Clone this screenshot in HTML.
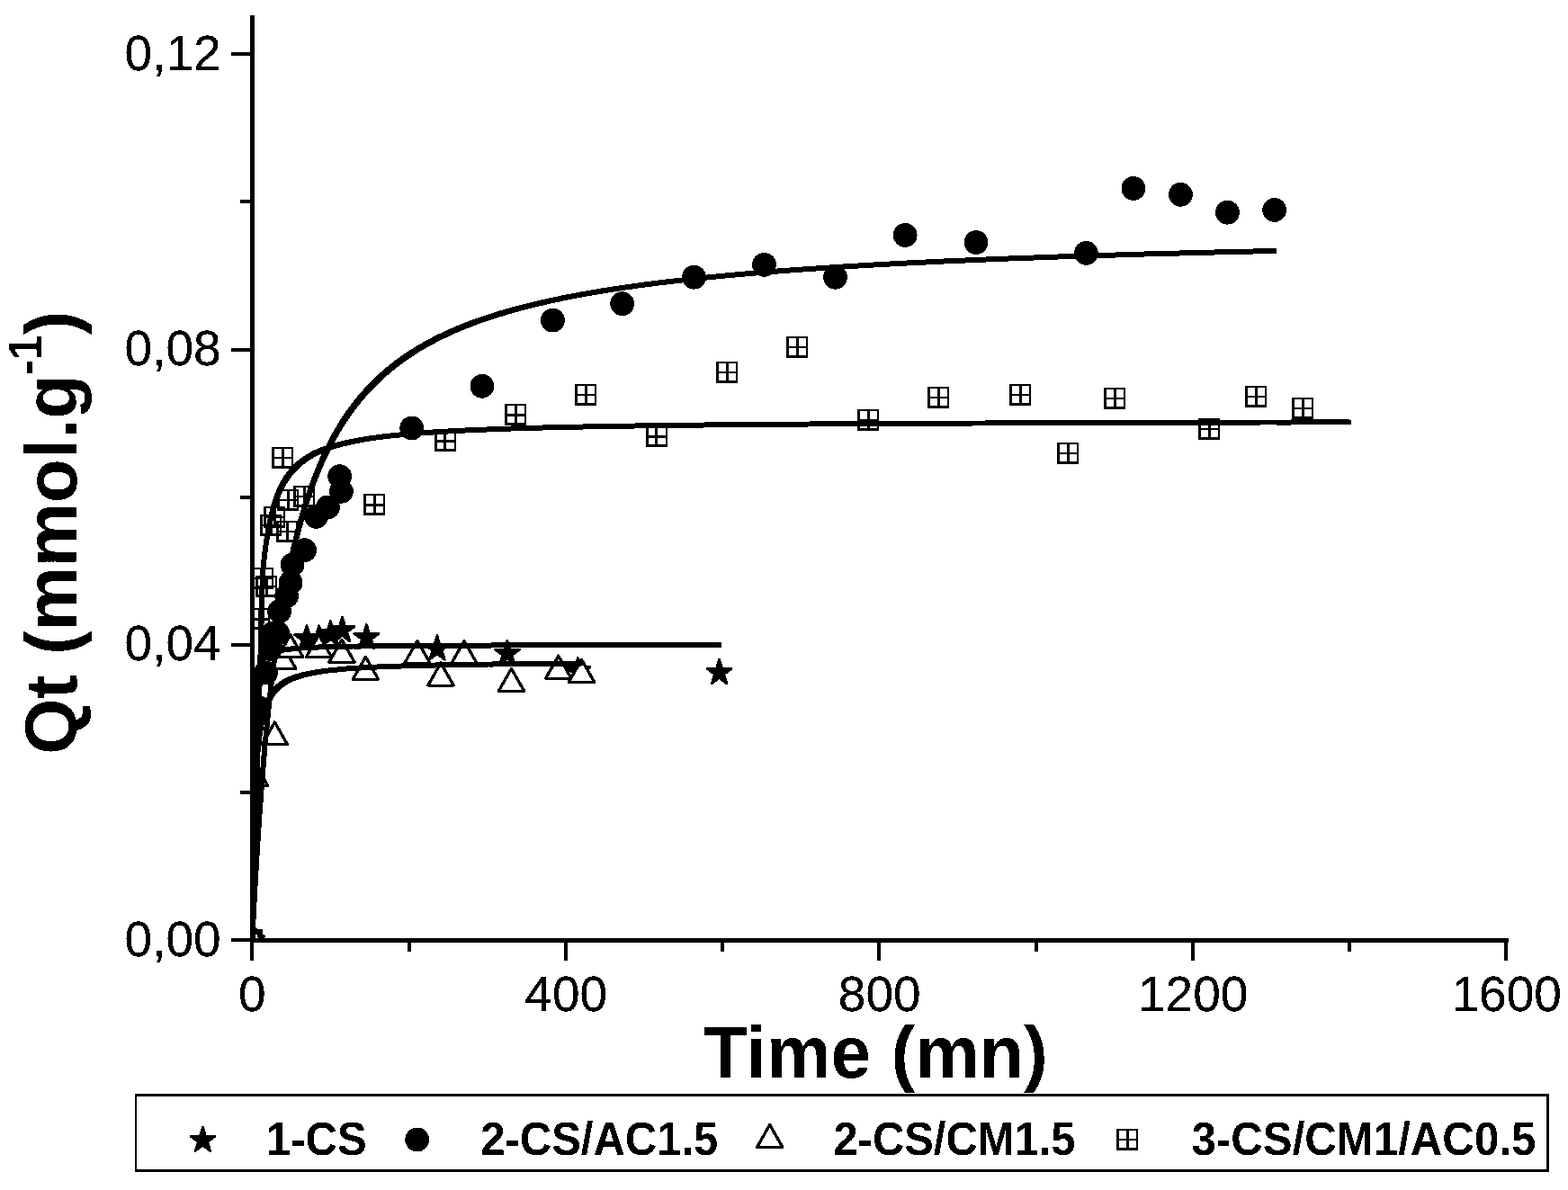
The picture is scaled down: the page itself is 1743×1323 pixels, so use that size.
<!DOCTYPE html>
<html lang="en"><head><meta charset="utf-8"><title>Adsorption kinetics</title>
<style>
html,body{margin:0;padding:0;background:#fff;}
body{width:1743px;height:1323px;overflow:hidden;}
svg{display:block;}
text{font-family:"Liberation Sans",Arial,Helvetica,sans-serif;fill:#000;}
.tk{font-size:55px;}
.ax{font-size:80px;font-weight:bold;}
.lg{font-size:49px;font-weight:bold;}
.ln{fill:none;stroke:#000;stroke-width:6;stroke-linecap:butt;stroke-linejoin:round;}
.axl{fill:none;stroke:#000;stroke-width:4.9;stroke-linecap:butt;}
.tkl{fill:none;stroke:#000;stroke-width:4;stroke-linecap:butt;}
.sq{fill:none;stroke:#000;stroke-width:2.8;}
.te{fill:none;stroke:#000;stroke-width:3.3;stroke-linejoin:round;stroke-linecap:butt;}
.tr{fill:#fff;stroke:#000;stroke-width:3.0;stroke-linejoin:round;}
</style></head><body>
<svg width="1743" height="1323" viewBox="0 0 1743 1323" shape-rendering="crispEdges">
<rect width="1743" height="1323" fill="#fff"/>
<defs><clipPath id="pc"><rect x="280.4" y="0" width="1500" height="1045.4"/></clipPath>
<g id="sqm"><path fill-rule="evenodd" d="M-12,-12h24v24h-24zM-9,-10v19h19v-19z"/><rect x="-1.2" y="-10" width="2.9" height="19"/><rect x="-9" y="-1.1" width="19" height="2.3"/></g>
<filter id="bw" x="-5%" y="-5%" width="110%" height="110%" color-interpolation-filters="sRGB"><feComponentTransfer><feFuncA type="discrete" tableValues="0 1"/></feComponentTransfer></filter>
<filter id="bw2" x="-5%" y="-5%" width="110%" height="110%" color-interpolation-filters="sRGB"><feComponentTransfer><feFuncA type="discrete" tableValues="0 1 1"/></feComponentTransfer></filter>
</defs>
<g clip-path="url(#pc)">
<g id="stars" stroke="#000" stroke-width="2.6" stroke-linejoin="round">
<polygon stroke="none" points="283.7,1030.8 286,1031.9 286.2,1032.9 292,1032.9 292,1038.9 293.9,1038.9 295.1,1040.5 295.1,1041.9 293.9,1042.2 293.9,1043.2 287.2,1043.2 286.2,1041.7 285.3,1038.8 283.7,1038.8"/>
<polygon points="799.5,733.2 802.8,743.4 813.2,743.4 804.8,749.8 808.0,760.0 799.5,753.7 791.1,760.0 794.3,749.8 785.9,743.4 796.3,743.4"/>
<polygon points="642.3,731.4 645.5,741.6 656.0,741.6 647.5,748.0 650.8,758.2 642.3,751.9 633.8,758.2 637.1,748.0 628.6,741.6 639.1,741.6"/>
<polygon points="563.9,711.9 567.1,722.1 577.6,722.1 569.1,728.5 572.4,738.7 563.9,732.4 555.4,738.7 558.7,728.5 550.2,722.1 560.7,722.1"/>
<polygon points="485.9,706.5 489.1,716.7 499.6,716.7 491.1,723.1 494.4,733.3 485.9,727.0 477.4,733.3 480.7,723.1 472.2,716.7 482.7,716.7"/>
<polygon points="407.5,694.3 410.7,704.5 421.2,704.5 412.7,710.9 416.0,721.1 407.5,714.8 399.0,721.1 402.3,710.9 393.8,704.5 404.3,704.5"/>
<polygon points="380.5,686.2 383.7,696.4 394.2,696.4 385.7,702.8 389.0,713.0 380.5,706.7 372.0,713.0 375.3,702.8 366.8,696.4 377.3,696.4"/>
<polygon points="367.3,690.4 370.5,700.6 381.0,700.6 372.5,707.0 375.8,717.2 367.3,710.9 358.8,717.2 362.1,707.0 353.6,700.6 364.1,700.6"/>
<polygon points="354.6,695.5 357.8,705.7 368.3,705.7 359.8,712.1 363.1,722.3 354.6,716.0 346.1,722.3 349.4,712.1 340.9,705.7 351.4,705.7"/>
<polygon points="341.0,695.5 344.2,705.7 354.7,705.7 346.2,712.1 349.5,722.3 341.0,716.0 332.5,722.3 335.8,712.1 327.3,705.7 337.8,705.7"/>
</g>
<g id="circles">
<circle cx="1416.7" cy="233.4" r="13.4"/>
<circle cx="1364.4" cy="236.2" r="13.4"/>
<circle cx="1312.4" cy="216.3" r="13.4"/>
<circle cx="1259.9" cy="209.4" r="13.4"/>
<circle cx="1207.4" cy="281.4" r="13.4"/>
<circle cx="1085.0" cy="269.5" r="13.4"/>
<circle cx="1006.2" cy="261.4" r="13.4"/>
<circle cx="928.5" cy="308.2" r="13.4"/>
<circle cx="849.5" cy="294.3" r="13.4"/>
<circle cx="771.4" cy="308.2" r="13.4"/>
<circle cx="691.7" cy="337.7" r="13.4"/>
<circle cx="614.4" cy="356.1" r="13.4"/>
<circle cx="535.9" cy="429.3" r="13.4"/>
<circle cx="457.7" cy="476.0" r="13.4"/>
<circle cx="377.7" cy="529.7" r="13.4"/>
<circle cx="379.4" cy="546.3" r="13.4"/>
<circle cx="364.4" cy="563.9" r="13.4"/>
<circle cx="351.5" cy="574.4" r="13.4"/>
<circle cx="338.6" cy="611.7" r="13.4"/>
<circle cx="325.1" cy="627.8" r="13.4"/>
<circle cx="323.1" cy="647.7" r="13.4"/>
<circle cx="318.7" cy="662.5" r="13.4"/>
<circle cx="310.6" cy="679.7" r="13.4"/>
<circle cx="308.5" cy="703.6" r="13.4"/>
<circle cx="302.5" cy="704.5" r="13.4"/>
<circle cx="302.0" cy="722.0" r="13.4"/>
<circle cx="295.5" cy="748.0" r="13.4"/>
<circle cx="288.0" cy="787.0" r="13.4"/>
</g>
<g id="tris">
<polygon class="tr" points="283.5,848.5 297.7,873.5 269.3,873.5"/><path class="te" d="M269.3,873.5L283.5,848.5L297.7,873.5"/>
<polygon class="tr" points="305.4,802.9 319.6,827.9 291.2,827.9"/><path class="te" d="M291.2,827.9L305.4,802.9L319.6,827.9"/>
<polygon class="tr" points="314.7,718.5 328.9,743.5 300.5,743.5"/><path class="te" d="M300.5,743.5L314.7,718.5L328.9,743.5"/>
<polygon class="tr" points="322.8,705.7 337.0,730.7 308.6,730.7"/><path class="te" d="M308.6,730.7L322.8,705.7L337.0,730.7"/>
<polygon class="tr" points="354.5,705.7 368.7,730.7 340.3,730.7"/><path class="te" d="M340.3,730.7L354.5,705.7L368.7,730.7"/>
<polygon class="tr" points="380.0,711.3 394.2,736.3 365.8,736.3"/><path class="te" d="M365.8,736.3L380.0,711.3L394.2,736.3"/>
<polygon class="tr" points="406.4,730.3 420.6,755.3 392.2,755.3"/><path class="te" d="M392.2,755.3L406.4,730.3L420.6,755.3"/>
<polygon class="tr" points="463.9,712.4 478.1,737.4 449.7,737.4"/><path class="te" d="M449.7,737.4L463.9,712.4L478.1,737.4"/>
<polygon class="tr" points="490.0,737.0 504.2,762.0 475.8,762.0"/><path class="te" d="M475.8,762.0L490.0,737.0L504.2,762.0"/>
<polygon class="tr" points="516.0,712.6 530.2,737.6 501.8,737.6"/><path class="te" d="M501.8,737.6L516.0,712.6L530.2,737.6"/>
<polygon class="tr" points="568.5,743.4 582.7,768.4 554.2,768.4"/><path class="te" d="M554.2,768.4L568.5,743.4L582.7,768.4"/>
<polygon class="tr" points="620.8,729.1 635.0,754.1 606.6,754.1"/><path class="te" d="M606.6,754.1L620.8,729.1L635.0,754.1"/>
<polygon class="tr" points="646.5,733.3 660.7,758.3 632.3,758.3"/><path class="te" d="M632.3,758.3L646.5,733.3L660.7,758.3"/>
</g>
<g id="squares">
<use href="#sqm" x="1448.0" y="454.1"/>
<use href="#sqm" x="1396.0" y="441.0"/>
<use href="#sqm" x="1344.0" y="477.0"/>
<use href="#sqm" x="1239.0" y="443.0"/>
<use href="#sqm" x="1187.0" y="503.8"/>
<use href="#sqm" x="1134.4" y="438.7"/>
<use href="#sqm" x="1042.8" y="442.0"/>
<use href="#sqm" x="965.1" y="467.0"/>
<use href="#sqm" x="886.1" y="385.9"/>
<use href="#sqm" x="808.1" y="413.9"/>
<use href="#sqm" x="729.5" y="485.4"/>
<use href="#sqm" x="651.0" y="438.9"/>
<use href="#sqm" x="573.0" y="461.4"/>
<use href="#sqm" x="494.5" y="490.4"/>
<use href="#sqm" x="416.0" y="561.4"/>
<use href="#sqm" x="314.0" y="509.0"/>
<use href="#sqm" x="338.0" y="552.0"/>
<use href="#sqm" x="320.2" y="556.0"/>
<use href="#sqm" x="305.1" y="574.8"/>
<use href="#sqm" x="300.9" y="583.9"/>
<use href="#sqm" x="318.9" y="591.1"/>
<use href="#sqm" x="292.0" y="643.0"/>
<use href="#sqm" x="296.1" y="651.9"/>
<use href="#sqm" x="288.0" y="688.4"/>
</g>
<polygon points="277.8,1042.8 277.8,1042.7 277.8,1042.6 277.8,1042.1 277.8,1041.2 277.8,1039.7 277.8,1037.4 277.8,1034.4 277.8,1030.4 277.8,1025.5 277.8,1019.5 277.8,1012.5 277.8,1004.6 277.9,995.7 277.9,986.0 277.9,975.6 277.9,964.6 278.0,953.3 278.0,941.7 278.1,930.0 278.1,918.4 278.2,906.9 278.3,895.6 278.3,884.7 278.4,874.2 278.5,864.2 278.6,854.7 278.7,845.6 278.8,837.1 278.9,829.1 279.1,821.6 279.2,814.7 279.3,808.1 279.5,802.1 279.7,796.4 279.8,791.1 280.0,786.3 280.2,781.7 280.4,777.5 280.6,773.6 280.9,770.0 281.1,766.7 281.4,763.6 281.6,760.7 281.9,758.0 282.2,755.5 282.5,753.1 282.8,751.0 283.1,748.9 283.5,747.1 283.8,745.3 284.2,743.7 284.6,742.1 285.0,740.7 285.4,739.3 285.9,738.1 286.3,736.9 286.8,735.8 287.3,734.8 287.8,733.8 288.3,732.9 288.8,732.0 289.4,731.2 289.9,730.4 290.5,729.7 291.1,729.0 291.8,728.4 292.4,727.8 293.1,727.2 293.8,726.7 294.5,726.2 295.2,725.7 295.9,725.2 296.7,724.8 297.5,724.3 298.3,724.0 299.1,723.6 300.0,723.2 300.9,722.9 301.8,722.6 302.7,722.2 303.7,722.0 304.6,721.7 305.6,721.4 306.6,721.2 307.7,720.9 308.8,720.7 309.8,720.5 311.0,720.2 312.1,720.0 313.3,719.8 314.5,719.7 315.7,719.5 317.0,719.3 318.2,719.1 319.5,719.0 320.9,718.8 322.2,718.7 323.6,718.5 325.0,718.4 326.5,718.3 328.0,718.2 329.5,718.0 331.0,717.9 332.6,717.8 334.2,717.7 335.8,717.6 337.5,717.5 339.2,717.4 340.9,717.3 342.6,717.2 344.4,717.2 346.2,717.1 348.1,717.0 350.0,716.9 351.9,716.8 353.8,716.8 355.8,716.7 357.8,716.6 359.9,716.6 362.0,716.5 364.1,716.4 366.3,716.4 368.5,716.3 370.7,716.3 372.9,716.2 375.3,716.2 377.6,716.1 380.0,716.1 382.4,716.0 384.8,716.0 387.3,715.9 389.9,715.9 392.4,715.8 395.0,715.8 397.7,715.8 400.4,715.7 403.1,715.7 405.8,715.7 408.7,715.6 411.5,715.6 414.4,715.6 417.3,715.5 420.3,715.5 423.3,715.5 426.3,715.4 429.4,715.4 432.6,715.4 435.8,715.3 439.0,715.3 442.3,715.3 445.6,715.3 448.9,715.2 452.3,715.2 455.8,715.2 459.3,715.2 462.8,715.2 466.4,715.1 470.0,715.1 473.7,715.1 477.4,715.1 481.2,715.1 485.0,715.0 488.8,715.0 492.7,715.0 496.7,715.0 500.7,715.0 504.8,714.9 508.9,714.9 513.0,714.9 517.2,714.9 521.5,714.9 525.8,714.9 530.1,714.9 534.5,714.8 539.0,714.8 543.5,714.8 548.0,714.8 552.6,714.8 557.3,714.8 562.0,714.8 566.8,714.7 571.6,714.7 576.5,714.7 581.4,714.7 586.4,714.7 591.4,714.7 596.5,714.7 601.6,714.7 606.8,714.7 612.1,714.7 617.4,714.6 622.7,714.6 628.2,714.6 633.6,714.6 639.2,714.6 644.8,714.6 650.4,714.6 656.1,714.6 661.9,714.6 667.7,714.6 673.6,714.6 679.5,714.5 685.5,714.5 691.6,714.5 697.7,714.5 703.8,714.5 710.1,714.5 716.4,714.5 722.7,714.5 729.1,714.5 735.6,714.5 742.2,714.5 748.8,714.5 755.4,714.5 762.2,714.5 769.0,714.4 775.8,714.4 782.7,714.4 789.7,714.4 796.8,714.4 802.1,714.4 802.1,719.7 795.0,719.7 788.0,719.7 781.1,719.7 774.3,719.7 767.5,719.8 760.7,719.8 754.1,719.8 747.5,719.8 740.9,719.8 734.4,719.8 728.0,719.8 721.7,719.8 715.4,719.8 709.1,719.8 703.0,719.8 696.9,719.8 690.8,719.8 684.8,719.8 678.9,719.9 673.0,719.9 667.2,719.9 661.4,719.9 655.7,719.9 650.1,719.9 644.5,719.9 638.9,719.9 633.5,719.9 628.0,719.9 622.7,719.9 617.4,720.0 612.1,720.0 606.9,720.0 601.8,720.0 596.7,720.0 591.7,720.0 586.7,720.0 581.8,720.0 576.9,720.0 572.1,720.0 567.3,720.1 562.6,720.1 557.9,720.1 553.3,720.1 548.8,720.1 544.3,720.1 539.8,720.1 535.4,720.2 531.1,720.2 526.8,720.2 522.5,720.2 518.3,720.2 514.2,720.2 510.1,720.2 506.0,720.3 502.0,720.3 498.0,720.3 494.1,720.3 490.3,720.3 486.5,720.4 482.7,720.4 479.0,720.4 475.3,720.4 471.7,720.4 468.1,720.5 464.6,720.5 461.1,720.5 457.6,720.5 454.2,720.5 450.9,720.6 447.6,720.6 444.3,720.6 441.1,720.6 437.9,720.7 434.7,720.7 431.6,720.7 428.6,720.8 425.6,720.8 422.6,720.8 419.7,720.9 416.8,720.9 414.0,720.9 411.1,721.0 408.4,721.0 405.7,721.0 403.0,721.1 400.3,721.1 397.7,721.1 395.2,721.2 392.6,721.2 390.1,721.3 387.7,721.3 385.3,721.4 382.9,721.4 380.6,721.5 378.2,721.5 376.0,721.6 373.8,721.6 371.6,721.7 369.4,721.7 367.3,721.8 365.2,721.9 363.1,721.9 361.1,722.0 359.1,722.1 357.2,722.1 355.3,722.2 353.4,722.3 351.5,722.4 349.7,722.5 347.9,722.5 346.2,722.6 344.5,722.7 342.8,722.8 341.1,722.9 339.5,723.0 337.9,723.1 336.3,723.2 334.8,723.3 333.3,723.5 331.8,723.6 330.3,723.7 328.9,723.8 327.5,724.0 326.2,724.1 324.8,724.3 323.5,724.4 322.3,724.6 321.0,724.8 319.8,725.0 318.6,725.1 317.4,725.3 316.3,725.5 315.1,725.8 314.1,726.0 313.0,726.2 311.9,726.5 310.9,726.7 309.9,727.0 309.0,727.3 308.0,727.5 307.1,727.9 306.2,728.2 305.3,728.5 304.4,728.9 303.6,729.3 302.8,729.6 302.0,730.1 301.2,730.5 300.5,731.0 299.8,731.5 299.1,732.0 298.4,732.5 297.7,733.1 297.1,733.7 296.4,734.3 295.8,735.0 295.2,735.7 294.7,736.5 294.1,737.3 293.6,738.2 293.1,739.1 292.6,740.1 292.1,741.1 291.6,742.2 291.2,743.4 290.7,744.6 290.3,746.0 289.9,747.4 289.5,749.0 289.1,750.6 288.8,752.4 288.4,754.2 288.1,756.3 287.8,758.4 287.5,760.8 287.2,763.3 286.9,766.0 286.7,768.9 286.4,772.0 286.2,775.3 285.9,778.9 285.7,782.8 285.5,787.0 285.3,791.6 285.1,796.4 285.0,801.7 284.8,807.4 284.6,813.4 284.5,820.0 284.4,826.9 284.2,834.4 284.1,842.4 284.0,850.9 283.9,860.0 283.8,869.5 283.7,879.5 283.6,890.0 283.6,900.9 283.5,912.2 283.4,923.7 283.4,935.3 283.3,947.0 283.3,958.6 283.2,969.9 283.2,980.9 283.2,991.3 283.2,1001.0 283.1,1009.9 283.1,1017.8 283.1,1024.8 283.1,1030.8 283.1,1035.7 283.1,1039.7 283.1,1042.7 283.1,1045.0 283.1,1046.5 283.1,1047.4 283.1,1047.9 283.1,1048.0 283.0,1048.1 277.8,1048.1"/>
<path class="ln" d="M280.4,1045.4 L280.4,1045.4 L280.4,1045.2 L280.4,1044.7 L280.4,1043.8 L280.4,1042.3 L280.4,1040.1 L280.4,1037.0 L280.4,1033.1 L280.4,1028.1 L280.4,1022.2 L280.5,1015.2 L280.5,1007.2 L280.5,998.3 L280.5,988.6 L280.6,978.2 L280.6,967.3 L280.6,956.0 L280.7,944.4 L280.7,932.7 L280.8,921.0 L280.9,909.5 L280.9,898.3 L281.0,887.4 L281.1,876.9 L281.2,866.9 L281.3,857.3 L281.4,848.3 L281.5,839.8 L281.6,831.8 L281.7,824.3 L281.9,817.3 L282.0,810.8 L282.2,804.7 L282.3,799.1 L282.5,793.8 L282.7,788.9 L282.9,784.4 L283.1,780.2 L283.3,776.3 L283.5,772.7 L283.8,769.3 L284.0,766.2 L284.3,763.3 L284.6,760.6 L284.8,758.1 L285.1,755.8 L285.5,753.6 L285.8,751.6 L286.1,749.7 L286.5,747.9 L286.9,746.3 L287.3,744.8 L287.7,743.3 L288.1,742.0 L288.5,740.7 L289.0,739.6 L289.4,738.5 L289.9,737.4 L290.4,736.4 L290.9,735.5 L291.5,734.7 L292.0,733.9 L292.6,733.1 L293.2,732.4 L293.8,731.7 L294.4,731.0 L295.1,730.4 L295.7,729.9 L296.4,729.3 L297.1,728.8 L297.8,728.3 L298.6,727.9 L299.4,727.4 L300.2,727.0 L301.0,726.6 L301.8,726.2 L302.7,725.9 L303.5,725.5 L304.4,725.2 L305.4,724.9 L306.3,724.6 L307.3,724.3 L308.3,724.1 L309.3,723.8 L310.3,723.6 L311.4,723.3 L312.5,723.1 L313.6,722.9 L314.8,722.7 L315.9,722.5 L317.1,722.3 L318.4,722.1 L319.6,722.0 L320.9,721.8 L322.2,721.6 L323.5,721.5 L324.9,721.3 L326.3,721.2 L327.7,721.1 L329.1,720.9 L330.6,720.8 L332.1,720.7 L333.7,720.6 L335.2,720.5 L336.8,720.4 L338.5,720.3 L340.1,720.2 L341.8,720.1 L343.5,720.0 L345.3,719.9 L347.1,719.8 L348.9,719.7 L350.7,719.6 L352.6,719.6 L354.5,719.5 L356.5,719.4 L358.5,719.3 L360.5,719.3 L362.5,719.2 L364.6,719.2 L366.7,719.1 L368.9,719.0 L371.1,719.0 L373.3,718.9 L375.6,718.9 L377.9,718.8 L380.2,718.8 L382.6,718.7 L385.0,718.7 L387.5,718.6 L390.0,718.6 L392.5,718.5 L395.1,718.5 L397.7,718.5 L400.3,718.4 L403.0,718.4 L405.7,718.3 L408.5,718.3 L411.3,718.3 L414.1,718.2 L417.0,718.2 L420.0,718.2 L422.9,718.1 L425.9,718.1 L429.0,718.1 L432.1,718.1 L435.2,718.0 L438.4,718.0 L441.6,718.0 L444.9,717.9 L448.2,717.9 L451.6,717.9 L455.0,717.9 L458.4,717.9 L461.9,717.8 L465.4,717.8 L469.0,717.8 L472.7,717.8 L476.3,717.7 L480.0,717.7 L483.8,717.7 L487.6,717.7 L491.5,717.7 L495.4,717.6 L499.4,717.6 L503.4,717.6 L507.4,717.6 L511.5,717.6 L515.7,717.6 L519.9,717.5 L524.1,717.5 L528.4,717.5 L532.8,717.5 L537.2,717.5 L541.6,717.5 L546.1,717.5 L550.7,717.4 L555.3,717.4 L560.0,717.4 L564.7,717.4 L569.4,717.4 L574.2,717.4 L579.1,717.4 L584.0,717.4 L589.0,717.4 L594.0,717.3 L599.1,717.3 L604.3,717.3 L609.5,717.3 L614.7,717.3 L620.0,717.3 L625.4,717.3 L630.8,717.3 L636.3,717.3 L641.8,717.3 L647.4,717.2 L653.0,717.2 L658.8,717.2 L664.5,717.2 L670.3,717.2 L676.2,717.2 L682.2,717.2 L688.1,717.2 L694.2,717.2 L700.3,717.2 L706.5,717.2 L712.7,717.2 L719.0,717.2 L725.4,717.1 L731.8,717.1 L738.3,717.1 L744.8,717.1 L751.4,717.1 L758.1,717.1 L764.8,717.1 L771.6,717.1 L778.5,717.1 L785.4,717.1 L792.4,717.1 L799.4,717.1"/>
<polygon points="277.8,1042.8 277.8,1042.7 277.8,1042.7 277.8,1042.7 277.8,1042.6 277.8,1042.5 277.8,1042.3 277.8,1042.0 277.8,1041.6 277.8,1041.1 277.9,1040.5 277.9,1039.8 277.9,1038.9 278.0,1037.9 278.0,1036.6 278.1,1035.3 278.2,1033.7 278.3,1031.9 278.4,1029.9 278.5,1027.7 278.6,1025.2 278.7,1022.5 278.9,1019.6 279.0,1016.4 279.2,1012.9 279.4,1009.2 279.6,1005.2 279.8,1001.0 280.1,996.4 280.4,991.6 280.6,986.5 280.9,981.2 281.2,975.5 281.6,969.6 281.9,963.5 282.3,957.1 282.7,950.4 283.2,943.5 283.6,936.3 284.1,928.9 284.6,921.3 285.1,913.5 285.7,905.5 286.2,897.3 286.8,888.9 287.5,880.4 288.1,871.7 288.8,862.9 289.5,854.0 290.3,845.0 291.1,835.8 291.9,826.6 292.7,817.3 293.6,808.0 294.5,798.7 295.5,789.3 296.5,779.9 297.5,770.4 298.6,761.1 299.7,751.7 300.8,742.3 302.0,733.0 303.2,723.8 304.4,714.6 305.7,705.5 307.0,696.5 308.4,687.5 309.8,678.7 311.3,669.9 312.8,661.2 314.3,652.7 315.9,644.3 317.6,636.0 319.2,627.8 321.0,619.7 322.7,611.8 324.6,604.0 326.4,596.4 328.4,588.9 330.3,581.5 332.4,574.2 334.4,567.1 336.6,560.2 338.7,553.3 341.0,546.7 343.2,540.1 345.6,533.7 348.0,527.4 350.4,521.3 352.9,515.3 355.5,509.4 358.1,503.7 360.8,498.1 363.5,492.6 366.3,487.2 369.2,482.0 372.1,476.9 375.1,471.9 378.1,467.0 381.2,462.3 384.4,457.6 387.6,453.1 390.9,448.7 394.3,444.4 397.7,440.2 401.2,436.1 404.8,432.1 408.4,428.2 412.1,424.4 415.9,420.6 419.7,417.0 423.6,413.5 427.6,410.0 431.6,406.7 435.8,403.4 439.9,400.2 444.2,397.1 448.6,394.0 453.0,391.0 457.5,388.2 462.0,385.3 466.7,382.6 471.4,379.9 476.2,377.3 481.1,374.7 486.0,372.2 491.1,369.8 496.2,367.4 501.4,365.1 506.7,362.8 512.1,360.6 517.5,358.5 523.0,356.3 528.7,354.3 534.4,352.3 540.1,350.3 546.0,348.4 552.0,346.6 558.0,344.7 564.2,343.0 570.4,341.2 576.7,339.5 583.1,337.9 589.6,336.3 596.2,334.7 602.9,333.1 609.7,331.6 616.5,330.2 623.5,328.7 630.5,327.3 637.7,325.9 644.9,324.6 652.3,323.3 659.7,322.0 667.3,320.7 674.9,319.5 682.6,318.3 690.5,317.1 698.4,316.0 706.4,314.9 714.6,313.8 722.8,312.7 731.2,311.7 739.6,310.6 748.2,309.6 756.8,308.6 765.6,307.7 774.5,306.7 783.4,305.8 792.5,304.9 801.7,304.0 811.0,303.2 820.4,302.3 829.9,301.5 839.6,300.7 849.3,299.9 859.2,299.1 869.1,298.3 879.2,297.6 889.4,296.8 899.7,296.1 910.1,295.4 920.7,294.7 931.3,294.1 942.1,293.4 953.0,292.8 964.0,292.1 975.1,291.5 986.4,290.9 997.8,290.3 1009.2,289.7 1020.9,289.1 1032.6,288.5 1044.4,288.0 1056.4,287.4 1068.5,286.9 1080.8,286.4 1093.1,285.9 1105.6,285.4 1118.2,284.9 1130.9,284.4 1143.8,283.9 1156.8,283.4 1169.9,283.0 1183.2,282.5 1196.5,282.1 1210.0,281.7 1223.7,281.2 1237.5,280.8 1251.4,280.4 1265.4,280.0 1279.6,279.6 1293.9,279.2 1308.4,278.8 1322.9,278.5 1337.7,278.1 1352.5,277.7 1367.5,277.4 1382.6,277.0 1397.9,276.7 1413.3,276.3 1418.6,276.3 1418.6,281.6 1403.2,282.0 1387.9,282.3 1372.8,282.7 1357.8,283.0 1343.0,283.4 1328.2,283.8 1313.7,284.1 1299.2,284.5 1284.9,284.9 1270.7,285.3 1256.7,285.7 1242.8,286.1 1229.0,286.5 1215.3,287.0 1201.8,287.4 1188.5,287.8 1175.2,288.3 1162.1,288.7 1149.1,289.2 1136.2,289.7 1123.5,290.2 1110.9,290.7 1098.4,291.2 1086.1,291.7 1073.8,292.2 1061.7,292.7 1049.7,293.3 1037.9,293.8 1026.2,294.4 1014.5,295.0 1003.1,295.6 991.7,296.2 980.4,296.8 969.3,297.4 958.3,298.1 947.4,298.7 936.6,299.4 926.0,300.0 915.4,300.7 905.0,301.4 894.7,302.1 884.5,302.9 874.4,303.6 864.5,304.4 854.6,305.2 844.9,306.0 835.2,306.8 825.7,307.6 816.3,308.5 807.0,309.3 797.8,310.2 788.7,311.1 779.8,312.0 770.9,313.0 762.1,313.9 753.5,314.9 744.9,315.9 736.5,317.0 728.1,318.0 719.9,319.1 711.7,320.2 703.7,321.3 695.8,322.4 687.9,323.6 680.2,324.8 672.6,326.0 665.0,327.3 657.6,328.6 650.2,329.9 643.0,331.2 635.8,332.6 628.8,334.0 621.8,335.5 615.0,336.9 608.2,338.4 601.5,340.0 594.9,341.6 588.4,343.2 582.0,344.8 575.7,346.5 569.5,348.3 563.3,350.0 557.3,351.9 551.3,353.7 545.4,355.6 539.7,357.6 534.0,359.6 528.3,361.6 522.8,363.8 517.4,365.9 512.0,368.1 506.7,370.4 501.5,372.7 496.4,375.1 491.3,377.5 486.4,380.0 481.5,382.6 476.7,385.2 472.0,387.9 467.3,390.6 462.8,393.5 458.3,396.3 453.9,399.3 449.5,402.4 445.2,405.5 441.1,408.7 436.9,412.0 432.9,415.3 428.9,418.8 425.0,422.3 421.2,425.9 417.4,429.7 413.7,433.5 410.1,437.4 406.5,441.4 403.0,445.5 399.6,449.7 396.2,454.0 392.9,458.4 389.7,462.9 386.5,467.6 383.4,472.3 380.4,477.2 377.4,482.2 374.5,487.3 371.6,492.5 368.8,497.9 366.1,503.4 363.4,509.0 360.8,514.7 358.2,520.6 355.7,526.6 353.3,532.7 350.9,539.0 348.5,545.4 346.3,552.0 344.0,558.6 341.9,565.5 339.7,572.4 337.7,579.5 335.6,586.8 333.7,594.2 331.7,601.7 329.9,609.3 328.0,617.1 326.3,625.0 324.5,633.1 322.9,641.3 321.2,649.6 319.6,658.0 318.1,666.5 316.6,675.2 315.1,684.0 313.7,692.8 312.3,701.8 311.0,710.8 309.7,719.9 308.5,729.1 307.3,738.3 306.1,747.6 305.0,757.0 303.9,766.4 302.8,775.7 301.8,785.2 300.8,794.6 299.8,804.0 298.9,813.3 298.0,822.6 297.2,831.9 296.4,841.1 295.6,850.3 294.8,859.3 294.1,868.2 293.4,877.0 292.8,885.7 292.1,894.2 291.5,902.6 291.0,910.8 290.4,918.8 289.9,926.6 289.4,934.2 288.9,941.6 288.5,948.8 288.0,955.7 287.6,962.4 287.2,968.8 286.9,974.9 286.5,980.8 286.2,986.5 285.9,991.8 285.7,996.9 285.4,1001.7 285.1,1006.3 284.9,1010.5 284.7,1014.5 284.5,1018.2 284.3,1021.7 284.2,1024.9 284.0,1027.8 283.9,1030.5 283.8,1033.0 283.7,1035.2 283.6,1037.2 283.5,1039.0 283.4,1040.6 283.3,1041.9 283.3,1043.2 283.2,1044.2 283.2,1045.1 283.2,1045.8 283.1,1046.4 283.1,1046.9 283.1,1047.3 283.1,1047.6 283.1,1047.8 283.1,1047.9 283.1,1048.0 283.1,1048.0 283.1,1048.0 283.0,1048.1 277.8,1048.1"/>
<path class="ln" d="M280.4,1045.4 L280.4,1045.4 L280.4,1045.4 L280.4,1045.3 L280.4,1045.3 L280.4,1045.1 L280.4,1044.9 L280.4,1044.6 L280.5,1044.3 L280.5,1043.8 L280.5,1043.2 L280.5,1042.4 L280.6,1041.5 L280.6,1040.5 L280.7,1039.3 L280.8,1037.9 L280.8,1036.3 L280.9,1034.5 L281.0,1032.5 L281.1,1030.3 L281.3,1027.9 L281.4,1025.2 L281.5,1022.2 L281.7,1019.0 L281.9,1015.6 L282.1,1011.9 L282.3,1007.9 L282.5,1003.6 L282.7,999.1 L283.0,994.3 L283.3,989.2 L283.6,983.8 L283.9,978.2 L284.2,972.3 L284.6,966.1 L285.0,959.7 L285.4,953.0 L285.8,946.1 L286.3,939.0 L286.7,931.6 L287.2,924.0 L287.8,916.2 L288.3,908.1 L288.9,900.0 L289.5,891.6 L290.1,883.1 L290.8,874.4 L291.5,865.6 L292.2,856.6 L292.9,847.6 L293.7,838.5 L294.5,829.3 L295.4,820.0 L296.3,810.7 L297.2,801.3 L298.1,791.9 L299.1,782.5 L300.2,773.1 L301.2,763.7 L302.3,754.3 L303.4,745.0 L304.6,735.7 L305.8,726.4 L307.1,717.3 L308.4,708.1 L309.7,699.1 L311.1,690.2 L312.5,681.3 L313.9,672.5 L315.4,663.9 L317.0,655.4 L318.6,646.9 L320.2,638.6 L321.9,630.4 L323.6,622.4 L325.4,614.5 L327.2,606.7 L329.1,599.0 L331.0,591.5 L333.0,584.1 L335.0,576.9 L337.1,569.8 L339.2,562.8 L341.4,556.0 L343.6,549.3 L345.9,542.8 L348.2,536.3 L350.6,530.1 L353.1,523.9 L355.6,517.9 L358.1,512.1 L360.8,506.3 L363.4,500.7 L366.2,495.2 L369.0,489.9 L371.8,484.6 L374.8,479.5 L377.7,474.6 L380.8,469.7 L383.9,464.9 L387.0,460.3 L390.3,455.8 L393.6,451.3 L396.9,447.0 L400.4,442.8 L403.9,438.7 L407.4,434.7 L411.0,430.8 L414.7,427.0 L418.5,423.3 L422.3,419.7 L426.3,416.1 L430.2,412.7 L434.3,409.3 L438.4,406.0 L442.6,402.8 L446.9,399.7 L451.2,396.7 L455.6,393.7 L460.1,390.8 L464.7,388.0 L469.3,385.2 L474.1,382.5 L478.9,379.9 L483.7,377.4 L488.7,374.9 L493.7,372.4 L498.9,370.0 L504.1,367.7 L509.3,365.5 L514.7,363.3 L520.2,361.1 L525.7,359.0 L531.3,356.9 L537.0,354.9 L542.8,353.0 L548.7,351.1 L554.6,349.2 L560.7,347.4 L566.8,345.6 L573.0,343.9 L579.4,342.2 L585.8,340.5 L592.3,338.9 L598.8,337.3 L605.5,335.8 L612.3,334.3 L619.2,332.8 L626.1,331.4 L633.2,330.0 L640.3,328.6 L647.6,327.2 L654.9,325.9 L662.4,324.7 L669.9,323.4 L677.5,322.2 L685.3,321.0 L693.1,319.8 L701.1,318.7 L709.1,317.5 L717.2,316.4 L725.5,315.4 L733.8,314.3 L742.3,313.3 L750.8,312.3 L759.5,311.3 L768.2,310.3 L777.1,309.4 L786.1,308.5 L795.2,307.6 L804.4,306.7 L813.7,305.8 L823.1,305.0 L832.6,304.1 L842.2,303.3 L852.0,302.5 L861.8,301.7 L871.8,301.0 L881.9,300.2 L892.1,299.5 L902.4,298.8 L912.8,298.1 L923.3,297.4 L934.0,296.7 L944.8,296.0 L955.7,295.4 L966.7,294.8 L977.8,294.1 L989.0,293.5 L1000.4,292.9 L1011.9,292.3 L1023.5,291.8 L1035.2,291.2 L1047.1,290.6 L1059.1,290.1 L1071.2,289.6 L1083.4,289.0 L1095.8,288.5 L1108.2,288.0 L1120.8,287.5 L1133.6,287.0 L1146.4,286.6 L1159.4,286.1 L1172.6,285.6 L1185.8,285.2 L1199.2,284.7 L1212.7,284.3 L1226.3,283.9 L1240.1,283.5 L1254.0,283.1 L1268.1,282.6 L1282.2,282.3 L1296.6,281.9 L1311.0,281.5 L1325.6,281.1 L1340.3,280.7 L1355.2,280.4 L1370.2,280.0 L1385.3,279.7 L1400.6,279.3 L1416.0,279.0"/>
<polygon points="277.8,1042.8 277.8,1042.7 277.8,1042.7 277.8,1042.7 277.8,1042.5 277.8,1042.3 277.8,1042.0 277.8,1041.5 277.8,1040.9 277.8,1040.1 277.8,1039.2 277.8,1038.0 277.8,1036.6 277.8,1035.0 277.8,1033.1 277.9,1031.0 277.9,1028.6 277.9,1025.9 278.0,1023.0 278.0,1019.8 278.0,1016.3 278.1,1012.5 278.1,1008.5 278.2,1004.2 278.2,999.7 278.3,994.9 278.4,989.9 278.4,984.8 278.5,979.5 278.6,974.0 278.7,968.4 278.8,962.7 278.9,956.9 279.0,951.1 279.1,945.2 279.2,939.3 279.4,933.4 279.5,927.5 279.6,921.6 279.8,915.8 280.0,910.1 280.1,904.4 280.3,898.9 280.5,893.4 280.7,888.1 280.9,882.8 281.1,877.7 281.3,872.8 281.6,867.9 281.8,863.2 282.1,858.7 282.3,854.2 282.6,850.0 282.9,845.8 283.2,841.8 283.5,837.9 283.8,834.2 284.1,830.6 284.5,827.1 284.8,823.8 285.2,820.6 285.6,817.5 286.0,814.5 286.4,811.6 286.8,808.9 287.2,806.2 287.6,803.7 288.1,801.2 288.6,798.9 289.1,796.6 289.6,794.5 290.1,792.4 290.6,790.4 291.1,788.4 291.7,786.6 292.3,784.8 292.9,783.1 293.5,781.5 294.1,779.9 294.7,778.4 295.4,776.9 296.0,775.5 296.7,774.2 297.4,772.9 298.1,771.6 298.9,770.4 299.6,769.3 300.4,768.2 301.2,767.1 302.0,766.1 302.8,765.1 303.7,764.1 304.5,763.2 305.4,762.3 306.3,761.4 307.2,760.6 308.2,759.8 309.2,759.1 310.1,758.3 311.1,757.6 312.2,756.9 313.2,756.2 314.3,755.6 315.3,755.0 316.5,754.4 317.6,753.8 318.7,753.2 319.9,752.7 321.1,752.2 322.3,751.7 323.5,751.2 324.8,750.7 326.1,750.3 327.4,749.8 328.7,749.4 330.1,749.0 331.5,748.6 332.9,748.2 334.3,747.8 335.7,747.4 337.2,747.1 338.7,746.7 340.2,746.4 341.8,746.1 343.4,745.8 345.0,745.5 346.6,745.2 348.2,744.9 349.9,744.6 351.6,744.3 353.3,744.1 355.1,743.8 356.9,743.6 358.7,743.3 360.5,743.1 362.4,742.9 364.3,742.6 366.2,742.4 368.2,742.2 370.2,742.0 372.2,741.8 374.2,741.6 376.3,741.4 378.4,741.3 380.5,741.1 382.6,740.9 384.8,740.7 387.0,740.6 389.3,740.4 391.6,740.3 393.9,740.1 396.2,740.0 398.6,739.8 401.0,739.7 403.4,739.5 405.9,739.4 408.4,739.3 410.9,739.1 413.5,739.0 416.1,738.9 418.7,738.8 421.3,738.7 424.0,738.5 426.8,738.4 429.5,738.3 432.3,738.2 435.1,738.1 438.0,738.0 440.9,737.9 443.8,737.8 446.8,737.7 449.8,737.6 452.8,737.6 455.9,737.5 459.0,737.4 462.1,737.3 465.3,737.2 468.5,737.1 471.8,737.1 475.1,737.0 478.4,736.9 481.8,736.8 485.2,736.8 488.6,736.7 492.1,736.6 495.6,736.6 499.2,736.5 502.7,736.4 506.4,736.4 510.0,736.3 513.7,736.2 517.5,736.2 521.3,736.1 525.1,736.1 529.0,736.0 532.9,736.0 536.8,735.9 540.8,735.9 544.8,735.8 548.9,735.8 553.0,735.7 557.2,735.7 561.3,735.6 565.6,735.6 569.8,735.5 574.2,735.5 578.5,735.4 582.9,735.4 587.4,735.3 591.9,735.3 596.4,735.3 601.0,735.2 605.6,735.2 610.2,735.1 614.9,735.1 619.7,735.1 624.5,735.0 629.3,735.0 634.2,735.0 639.1,734.9 644.1,734.9 649.4,734.9 649.4,740.2 644.4,740.2 639.5,740.3 634.6,740.3 629.8,740.3 625.0,740.4 620.2,740.4 615.5,740.4 610.9,740.5 606.3,740.5 601.7,740.6 597.2,740.6 592.7,740.6 588.2,740.7 583.8,740.7 579.5,740.8 575.1,740.8 570.9,740.9 566.6,740.9 562.5,741.0 558.3,741.0 554.2,741.1 550.1,741.1 546.1,741.2 542.1,741.2 538.2,741.3 534.3,741.3 530.4,741.4 526.6,741.4 522.8,741.5 519.0,741.5 515.3,741.6 511.7,741.7 508.0,741.7 504.5,741.8 500.9,741.9 497.4,741.9 493.9,742.0 490.5,742.1 487.1,742.1 483.7,742.2 480.4,742.3 477.1,742.4 473.8,742.4 470.6,742.5 467.4,742.6 464.3,742.7 461.2,742.8 458.1,742.9 455.1,742.9 452.1,743.0 449.1,743.1 446.2,743.2 443.3,743.3 440.4,743.4 437.6,743.5 434.8,743.6 432.1,743.7 429.3,743.8 426.6,744.0 424.0,744.1 421.4,744.2 418.8,744.3 416.2,744.4 413.7,744.6 411.2,744.7 408.7,744.8 406.3,745.0 403.9,745.1 401.5,745.3 399.2,745.4 396.9,745.6 394.6,745.7 392.3,745.9 390.1,746.0 387.9,746.2 385.8,746.4 383.7,746.6 381.6,746.7 379.5,746.9 377.5,747.1 375.5,747.3 373.5,747.5 371.5,747.7 369.6,747.9 367.7,748.2 365.8,748.4 364.0,748.6 362.2,748.9 360.4,749.1 358.6,749.4 356.9,749.6 355.2,749.9 353.5,750.2 351.9,750.5 350.3,750.8 348.7,751.1 347.1,751.4 345.5,751.7 344.0,752.0 342.5,752.4 341.0,752.7 339.6,753.1 338.2,753.5 336.8,753.9 335.4,754.3 334.0,754.7 332.7,755.1 331.4,755.6 330.1,756.0 328.8,756.5 327.6,757.0 326.4,757.5 325.2,758.0 324.0,758.5 322.9,759.1 321.8,759.7 320.6,760.3 319.6,760.9 318.5,761.5 317.5,762.2 316.4,762.9 315.4,763.6 314.5,764.4 313.5,765.1 312.5,765.9 311.6,766.7 310.7,767.6 309.8,768.5 309.0,769.4 308.1,770.4 307.3,771.4 306.5,772.4 305.7,773.5 304.9,774.6 304.2,775.7 303.4,776.9 302.7,778.2 302.0,779.5 301.3,780.8 300.7,782.2 300.0,783.7 299.4,785.2 298.8,786.8 298.2,788.4 297.6,790.1 297.0,791.9 296.4,793.7 295.9,795.7 295.4,797.7 294.9,799.8 294.4,801.9 293.9,804.2 293.4,806.5 292.9,809.0 292.5,811.5 292.1,814.2 291.7,816.9 291.3,819.8 290.9,822.8 290.5,825.9 290.1,829.1 289.8,832.4 289.4,835.9 289.1,839.5 288.8,843.2 288.5,847.1 288.2,851.1 287.9,855.3 287.6,859.5 287.4,864.0 287.1,868.5 286.9,873.2 286.6,878.1 286.4,883.0 286.2,888.1 286.0,893.4 285.8,898.7 285.6,904.2 285.4,909.7 285.3,915.4 285.1,921.1 284.9,926.9 284.8,932.8 284.7,938.7 284.5,944.6 284.4,950.5 284.3,956.4 284.2,962.2 284.1,968.0 284.0,973.7 283.9,979.3 283.8,984.8 283.7,990.1 283.7,995.2 283.6,1000.2 283.5,1005.0 283.5,1009.5 283.4,1013.8 283.4,1017.8 283.3,1021.6 283.3,1025.1 283.3,1028.3 283.2,1031.2 283.2,1033.9 283.2,1036.3 283.1,1038.4 283.1,1040.3 283.1,1041.9 283.1,1043.3 283.1,1044.5 283.1,1045.4 283.1,1046.2 283.1,1046.8 283.1,1047.3 283.1,1047.6 283.1,1047.8 283.1,1048.0 283.1,1048.0 283.1,1048.0 283.0,1048.1 277.8,1048.1"/>
<path class="ln" d="M280.4,1045.4 L280.4,1045.4 L280.4,1045.4 L280.4,1045.3 L280.4,1045.2 L280.4,1044.9 L280.4,1044.6 L280.4,1044.2 L280.4,1043.6 L280.4,1042.8 L280.4,1041.8 L280.4,1040.7 L280.5,1039.3 L280.5,1037.6 L280.5,1035.8 L280.5,1033.6 L280.5,1031.2 L280.6,1028.6 L280.6,1025.6 L280.6,1022.4 L280.7,1018.9 L280.7,1015.1 L280.8,1011.1 L280.8,1006.8 L280.9,1002.3 L280.9,997.6 L281.0,992.6 L281.1,987.4 L281.2,982.1 L281.2,976.7 L281.3,971.1 L281.4,965.4 L281.5,959.6 L281.6,953.7 L281.8,947.8 L281.9,941.9 L282.0,936.0 L282.1,930.1 L282.3,924.3 L282.4,918.5 L282.6,912.7 L282.8,907.1 L282.9,901.5 L283.1,896.1 L283.3,890.7 L283.5,885.5 L283.7,880.4 L284.0,875.4 L284.2,870.6 L284.4,865.9 L284.7,861.3 L285.0,856.9 L285.2,852.6 L285.5,848.5 L285.8,844.5 L286.1,840.6 L286.4,836.9 L286.8,833.3 L287.1,829.8 L287.5,826.4 L287.8,823.2 L288.2,820.1 L288.6,817.2 L289.0,814.3 L289.4,811.5 L289.8,808.9 L290.3,806.3 L290.7,803.9 L291.2,801.5 L291.7,799.3 L292.2,797.1 L292.7,795.0 L293.2,793.0 L293.8,791.1 L294.3,789.2 L294.9,787.5 L295.5,785.8 L296.1,784.1 L296.7,782.5 L297.4,781.0 L298.0,779.6 L298.7,778.2 L299.4,776.8 L300.1,775.5 L300.8,774.3 L301.5,773.1 L302.3,771.9 L303.1,770.8 L303.8,769.7 L304.7,768.7 L305.5,767.7 L306.3,766.8 L307.2,765.8 L308.1,765.0 L309.0,764.1 L309.9,763.3 L310.8,762.5 L311.8,761.7 L312.8,761.0 L313.8,760.3 L314.8,759.6 L315.8,758.9 L316.9,758.3 L318.0,757.6 L319.1,757.0 L320.2,756.5 L321.4,755.9 L322.5,755.4 L323.7,754.8 L325.0,754.3 L326.2,753.8 L327.5,753.4 L328.7,752.9 L330.0,752.5 L331.4,752.0 L332.7,751.6 L334.1,751.2 L335.5,750.8 L336.9,750.5 L338.4,750.1 L339.9,749.7 L341.4,749.4 L342.9,749.1 L344.4,748.7 L346.0,748.4 L347.6,748.1 L349.2,747.8 L350.9,747.5 L352.6,747.2 L354.3,747.0 L356.0,746.7 L357.7,746.5 L359.5,746.2 L361.3,746.0 L363.2,745.7 L365.1,745.5 L366.9,745.3 L368.9,745.1 L370.8,744.9 L372.8,744.7 L374.8,744.5 L376.8,744.3 L378.9,744.1 L381.0,743.9 L383.1,743.7 L385.3,743.5 L387.5,743.4 L389.7,743.2 L391.9,743.1 L394.2,742.9 L396.5,742.7 L398.9,742.6 L401.2,742.5 L403.6,742.3 L406.1,742.2 L408.5,742.0 L411.0,741.9 L413.5,741.8 L416.1,741.7 L418.7,741.5 L421.3,741.4 L424.0,741.3 L426.7,741.2 L429.4,741.1 L432.2,741.0 L435.0,740.9 L437.8,740.8 L440.6,740.7 L443.5,740.6 L446.5,740.5 L449.4,740.4 L452.4,740.3 L455.5,740.2 L458.5,740.1 L461.7,740.0 L464.8,739.9 L468.0,739.9 L471.2,739.8 L474.4,739.7 L477.7,739.6 L481.1,739.6 L484.4,739.5 L487.8,739.4 L491.3,739.3 L494.7,739.3 L498.2,739.2 L501.8,739.1 L505.4,739.1 L509.0,739.0 L512.7,739.0 L516.4,738.9 L520.1,738.8 L523.9,738.8 L527.8,738.7 L531.6,738.7 L535.5,738.6 L539.5,738.6 L543.5,738.5 L547.5,738.5 L551.5,738.4 L555.7,738.4 L559.8,738.3 L564.0,738.3 L568.2,738.2 L572.5,738.2 L576.8,738.1 L581.2,738.1 L585.6,738.0 L590.0,738.0 L594.5,737.9 L599.0,737.9 L603.6,737.9 L608.2,737.8 L612.9,737.8 L617.6,737.8 L622.3,737.7 L627.1,737.7 L632.0,737.6 L636.9,737.6 L641.8,737.6 L646.8,737.5"/>
<polygon points="277.8,1042.8 288.0,687.4 288.7,659.4 289.4,632.3 289.4,632.3 289.4,632.3 289.4,632.3 289.4,632.2 289.4,632.1 289.4,632.0 289.5,631.9 289.5,631.7 289.5,631.4 289.5,631.1 289.6,630.8 289.6,630.3 289.7,629.8 289.7,629.2 289.8,628.5 289.9,627.7 290.0,626.8 290.1,625.8 290.2,624.7 290.3,623.5 290.5,622.2 290.6,620.8 290.8,619.3 291.0,617.7 291.2,616.0 291.4,614.1 291.7,612.2 291.9,610.2 292.2,608.1 292.5,605.9 292.8,603.7 293.1,601.3 293.5,599.0 293.9,596.5 294.3,594.0 294.7,591.4 295.2,588.8 295.6,586.2 296.2,583.6 296.7,580.9 297.2,578.2 297.8,575.5 298.4,572.9 299.1,570.2 299.8,567.5 300.5,564.9 301.2,562.3 302.0,559.7 302.8,557.1 303.6,554.6 304.5,552.1 305.4,549.7 306.3,547.3 307.3,544.9 308.3,542.6 309.3,540.4 310.4,538.2 311.6,536.0 312.7,533.9 313.9,531.9 315.2,529.9 316.5,527.9 317.8,526.1 319.2,524.2 320.6,522.4 322.0,520.7 323.5,519.0 325.1,517.4 326.7,515.8 328.3,514.3 330.0,512.8 331.8,511.4 333.5,510.0 335.4,508.7 337.3,507.4 339.2,506.1 341.2,504.9 343.2,503.7 345.3,502.6 347.5,501.5 349.7,500.4 352.0,499.4 354.3,498.4 356.6,497.4 359.1,496.5 361.6,495.6 364.1,494.7 366.7,493.9 369.4,493.1 372.1,492.3 374.9,491.5 377.7,490.8 380.7,490.1 383.6,489.4 386.7,488.7 389.8,488.1 392.9,487.5 396.2,486.8 399.5,486.3 402.8,485.7 406.3,485.1 409.8,484.6 413.4,484.1 417.0,483.6 420.7,483.1 424.5,482.7 428.4,482.2 432.3,481.8 436.3,481.3 440.4,480.9 444.5,480.5 448.8,480.1 453.1,479.8 457.5,479.4 461.9,479.1 466.5,478.7 471.1,478.4 475.8,478.1 480.5,477.7 485.4,477.4 490.3,477.1 495.4,476.9 500.5,476.6 505.7,476.3 510.9,476.0 516.3,475.8 521.7,475.5 527.3,475.3 532.9,475.1 538.6,474.8 544.4,474.6 550.3,474.4 556.2,474.2 562.3,474.0 568.5,473.8 574.7,473.6 581.1,473.4 587.5,473.2 594.0,473.0 600.6,472.9 607.4,472.7 614.2,472.5 621.1,472.4 628.1,472.2 635.2,472.1 642.4,471.9 649.7,471.8 657.1,471.6 664.6,471.5 672.2,471.4 679.9,471.2 687.7,471.1 695.6,471.0 703.6,470.8 711.8,470.7 720.0,470.6 728.3,470.5 736.8,470.4 745.3,470.3 754.0,470.2 762.7,470.1 771.6,470.0 780.6,469.9 789.7,469.8 798.9,469.7 808.2,469.6 817.6,469.5 827.2,469.4 836.9,469.3 846.6,469.3 856.5,469.2 866.5,469.1 876.7,469.0 886.9,468.9 897.3,468.9 907.7,468.8 918.3,468.7 929.1,468.6 939.9,468.6 950.9,468.5 961.9,468.4 973.2,468.4 984.5,468.3 995.9,468.3 1007.5,468.2 1019.2,468.1 1031.1,468.1 1043.0,468.0 1055.1,468.0 1067.3,467.9 1079.7,467.9 1092.2,467.8 1104.8,467.8 1117.5,467.7 1130.4,467.7 1143.4,467.6 1156.5,467.6 1169.8,467.5 1183.2,467.5 1196.7,467.4 1210.4,467.4 1224.2,467.3 1238.2,467.3 1252.3,467.3 1266.5,467.2 1280.9,467.2 1295.4,467.1 1310.0,467.1 1324.8,467.1 1339.8,467.0 1354.8,467.0 1370.1,467.0 1385.4,466.9 1400.9,466.9 1416.6,466.9 1432.4,466.8 1448.3,466.8 1464.4,466.8 1480.7,466.7 1497.1,466.7 1502.4,466.7 1502.4,472.0 1486.0,472.0 1469.7,472.1 1453.6,472.1 1437.7,472.1 1421.9,472.2 1406.2,472.2 1390.7,472.2 1375.4,472.3 1360.1,472.3 1345.1,472.3 1330.1,472.4 1315.3,472.4 1300.7,472.4 1286.2,472.5 1271.8,472.5 1257.6,472.6 1243.5,472.6 1229.5,472.6 1215.7,472.7 1202.0,472.7 1188.5,472.8 1175.1,472.8 1161.8,472.9 1148.7,472.9 1135.7,473.0 1122.8,473.0 1110.1,473.1 1097.5,473.1 1085.0,473.2 1072.6,473.2 1060.4,473.3 1048.3,473.3 1036.4,473.4 1024.5,473.4 1012.8,473.5 1001.2,473.6 989.8,473.6 978.5,473.7 967.2,473.7 956.2,473.8 945.2,473.9 934.4,473.9 923.6,474.0 913.0,474.1 902.6,474.2 892.2,474.2 882.0,474.3 871.8,474.4 861.8,474.5 851.9,474.6 842.2,474.6 832.5,474.7 822.9,474.8 813.5,474.9 804.2,475.0 795.0,475.1 785.9,475.2 776.9,475.3 768.0,475.4 759.3,475.5 750.6,475.6 742.1,475.7 733.6,475.8 725.3,475.9 717.1,476.0 708.9,476.1 700.9,476.3 693.0,476.4 685.2,476.5 677.5,476.7 669.9,476.8 662.4,476.9 655.0,477.1 647.7,477.2 640.5,477.4 633.4,477.5 626.4,477.7 619.5,477.8 612.7,478.0 605.9,478.2 599.3,478.3 592.8,478.5 586.4,478.7 580.0,478.9 573.8,479.1 567.6,479.3 561.5,479.5 555.6,479.7 549.7,479.9 543.9,480.1 538.2,480.4 532.6,480.6 527.0,480.8 521.6,481.1 516.2,481.3 511.0,481.6 505.8,481.9 500.7,482.2 495.6,482.4 490.7,482.7 485.8,483.0 481.1,483.4 476.4,483.7 471.8,484.0 467.2,484.4 462.8,484.7 458.4,485.1 454.1,485.4 449.8,485.8 445.7,486.2 441.6,486.6 437.6,487.1 433.7,487.5 429.8,488.0 426.0,488.4 422.3,488.9 418.7,489.4 415.1,489.9 411.6,490.4 408.1,491.0 404.8,491.6 401.5,492.1 398.2,492.8 395.1,493.4 392.0,494.0 388.9,494.7 386.0,495.4 383.0,496.1 380.2,496.8 377.4,497.6 374.7,498.4 372.0,499.2 369.4,500.0 366.9,500.9 364.4,501.8 361.9,502.7 359.6,503.7 357.3,504.7 355.0,505.7 352.8,506.8 350.6,507.9 348.5,509.0 346.5,510.2 344.5,511.4 342.6,512.7 340.7,514.0 338.8,515.3 337.1,516.7 335.3,518.1 333.6,519.6 332.0,521.1 330.4,522.7 328.8,524.3 327.3,526.0 325.9,527.7 324.5,529.5 323.1,531.4 321.8,533.2 320.5,535.2 319.2,537.2 318.0,539.2 316.9,541.3 315.7,543.5 314.6,545.7 313.6,547.9 312.6,550.2 311.6,552.6 310.7,555.0 309.8,557.4 308.9,559.9 308.1,562.4 307.3,565.0 306.5,567.6 305.8,570.2 305.1,572.8 304.4,575.5 303.7,578.2 303.1,580.8 302.5,583.5 302.0,586.2 301.5,588.9 300.9,591.5 300.5,594.1 300.0,596.7 299.6,599.3 299.2,601.8 298.8,604.3 298.4,606.6 298.1,609.0 297.8,611.2 297.5,613.4 297.2,615.5 297.0,617.5 296.7,619.4 296.5,621.3 296.3,623.0 296.1,624.6 295.9,626.1 295.8,627.5 295.6,628.8 295.5,630.0 295.4,631.1 295.3,632.1 295.2,633.0 295.1,633.8 295.0,634.5 295.0,635.1 294.9,635.6 294.9,636.1 294.8,636.4 294.8,636.7 294.8,637.0 294.8,637.2 294.7,637.3 294.7,637.4 294.7,637.5 294.7,637.6 294.7,637.6 294.7,637.6 294.7,637.6 293.9,664.6 293.2,692.6 283.0,1048.1 277.8,1048.1"/>
<path class="ln" d="M280.4,1045.4 L290.6,690.0 L291.3,662.0 L292.1,634.9 L292.1,634.9 L292.1,634.9 L292.1,634.9 L292.1,634.9 L292.1,634.8 L292.1,634.7 L292.1,634.5 L292.1,634.3 L292.2,634.1 L292.2,633.8 L292.2,633.4 L292.3,633.0 L292.3,632.4 L292.4,631.8 L292.5,631.1 L292.5,630.3 L292.6,629.4 L292.7,628.4 L292.9,627.4 L293.0,626.2 L293.1,624.9 L293.3,623.5 L293.5,621.9 L293.6,620.3 L293.8,618.6 L294.1,616.8 L294.3,614.9 L294.6,612.9 L294.8,610.8 L295.1,608.6 L295.5,606.3 L295.8,604.0 L296.2,601.6 L296.5,599.1 L296.9,596.6 L297.4,594.1 L297.8,591.5 L298.3,588.9 L298.8,586.2 L299.3,583.5 L299.9,580.9 L300.5,578.2 L301.1,575.5 L301.7,572.8 L302.4,570.2 L303.1,567.5 L303.8,564.9 L304.6,562.3 L305.4,559.8 L306.3,557.2 L307.1,554.8 L308.0,552.3 L309.0,549.9 L309.9,547.6 L310.9,545.3 L312.0,543.0 L313.1,540.8 L314.2,538.7 L315.4,536.6 L316.6,534.5 L317.8,532.5 L319.1,530.6 L320.4,528.7 L321.8,526.9 L323.2,525.1 L324.7,523.4 L326.2,521.7 L327.7,520.1 L329.3,518.5 L331.0,517.0 L332.7,515.5 L334.4,514.1 L336.2,512.7 L338.0,511.3 L339.9,510.0 L341.9,508.8 L343.9,507.6 L345.9,506.4 L348.0,505.2 L350.1,504.1 L352.3,503.1 L354.6,502.0 L356.9,501.0 L359.3,500.1 L361.7,499.2 L364.2,498.3 L366.8,497.4 L369.4,496.5 L372.0,495.7 L374.8,494.9 L377.5,494.2 L380.4,493.4 L383.3,492.7 L386.3,492.0 L389.3,491.4 L392.4,490.7 L395.6,490.1 L398.8,489.5 L402.1,488.9 L405.5,488.3 L408.9,487.8 L412.4,487.3 L416.0,486.8 L419.7,486.3 L423.4,485.8 L427.2,485.3 L431.0,484.9 L434.9,484.4 L439.0,484.0 L443.0,483.6 L447.2,483.2 L451.4,482.8 L455.7,482.4 L460.1,482.1 L464.6,481.7 L469.1,481.4 L473.7,481.0 L478.4,480.7 L483.2,480.4 L488.1,480.1 L493.0,479.8 L498.0,479.5 L503.1,479.2 L508.3,479.0 L513.6,478.7 L518.9,478.4 L524.4,478.2 L529.9,477.9 L535.5,477.7 L541.2,477.5 L547.0,477.3 L552.9,477.0 L558.9,476.8 L565.0,476.6 L571.1,476.4 L577.4,476.2 L583.7,476.0 L590.1,475.9 L596.7,475.7 L603.3,475.5 L610.0,475.3 L616.8,475.2 L623.7,475.0 L630.7,474.9 L637.8,474.7 L645.0,474.6 L652.3,474.4 L659.7,474.3 L667.2,474.1 L674.8,474.0 L682.6,473.9 L690.4,473.7 L698.3,473.6 L706.3,473.5 L714.4,473.4 L722.6,473.3 L731.0,473.2 L739.4,473.0 L748.0,472.9 L756.6,472.8 L765.4,472.7 L774.3,472.6 L783.2,472.5 L792.3,472.4 L801.5,472.3 L810.9,472.2 L820.3,472.2 L829.8,472.1 L839.5,472.0 L849.3,471.9 L859.2,471.8 L869.2,471.7 L879.3,471.7 L889.5,471.6 L899.9,471.5 L910.4,471.4 L921.0,471.4 L931.7,471.3 L942.5,471.2 L953.5,471.2 L964.6,471.1 L975.8,471.0 L987.1,471.0 L998.6,470.9 L1010.2,470.8 L1021.9,470.8 L1033.7,470.7 L1045.7,470.7 L1057.8,470.6 L1070.0,470.6 L1082.3,470.5 L1094.8,470.5 L1107.4,470.4 L1120.2,470.4 L1133.0,470.3 L1146.0,470.3 L1159.2,470.2 L1172.4,470.2 L1185.9,470.1 L1199.4,470.1 L1213.1,470.0 L1226.9,470.0 L1240.8,469.9 L1254.9,469.9 L1269.2,469.9 L1283.5,469.8 L1298.0,469.8 L1312.7,469.7 L1327.5,469.7 L1342.4,469.7 L1357.5,469.6 L1372.7,469.6 L1388.1,469.6 L1403.6,469.5 L1419.2,469.5 L1435.0,469.5 L1451.0,469.4 L1467.1,469.4 L1483.3,469.4 L1499.7,469.3"/>
</g>
<g id="axes">
<path class="axl" d="M280.4,17V1047.8"/>
<path class="axl" d="M278.0,1045.4H1676.6"/>
<path class="tkl" d="M257,1045.4H280.4"/>
<path class="tkl" d="M266.9,881.2H280.4"/>
<path class="tkl" d="M257,717.0H280.4"/>
<path class="tkl" d="M266.9,552.8H280.4"/>
<path class="tkl" d="M257,388.6H280.4"/>
<path class="tkl" d="M266.9,224.4H280.4"/>
<path class="tkl" d="M257,60.2H280.4"/>
<path class="tkl" d="M280.4,1045.4V1067.8"/>
<path class="tkl" d="M454.6,1045.4V1057.8"/>
<path class="tkl" d="M628.9,1045.4V1067.8"/>
<path class="tkl" d="M803.1,1045.4V1057.8"/>
<path class="tkl" d="M977.4,1045.4V1067.8"/>
<path class="tkl" d="M1151.7,1045.4V1057.8"/>
<path class="tkl" d="M1325.9,1045.4V1067.8"/>
<path class="tkl" d="M1500.2,1045.4V1057.8"/>
<path class="tkl" d="M1674.4,1045.4V1067.8"/>
</g>
<g id="ticklabels" class="tk" filter="url(#bw2)">
<text transform="translate(245.6,1062.7) scale(1,1.018)" text-anchor="end">0,00</text>
<text transform="translate(245.6,734.3) scale(1,1.018)" text-anchor="end">0,04</text>
<text transform="translate(245.6,405.9) scale(1,1.018)" text-anchor="end">0,08</text>
<text transform="translate(245.6,77.5) scale(1,1.018)" text-anchor="end">0,12</text>
<text transform="translate(280.4,1123.7) scale(1,1.018)" text-anchor="middle">0</text>
<text transform="translate(629.2,1123.7) scale(1,1.018)" text-anchor="middle">400</text>
<text transform="translate(977.7,1123.7) scale(1,1.018)" text-anchor="middle">800</text>
<text transform="translate(1326.2,1123.7) scale(1,1.018)" text-anchor="middle">1200</text>
<text transform="translate(1674.7,1123.7) scale(1,1.018)" text-anchor="middle">1600</text>
</g>
<g id="titles" filter="url(#bw)">
<text class="ax" transform="translate(973.4,1197.8) scale(1.005,1.03)" text-anchor="middle">Time (mn)</text>
<text class="ax" transform="translate(84.5,592.4) rotate(-90) scale(1,1.03)" text-anchor="middle">Qt (mmol.g<tspan font-size="50" dy="-37.6">-1</tspan><tspan dy="37.6">)</tspan></text>
</g>
<g id="legend" filter="url(#bw)">
<rect x="151.2" y="1217.4" width="1569.6" height="84.2" fill="none" stroke="#000" stroke-width="2.6"/>
<polygon stroke="#000" stroke-width="2.6" stroke-linejoin="round" points="225.5,1253.2 228.7,1263.3 239.0,1263.3 230.7,1269.5 233.8,1279.6 225.5,1273.4 217.2,1279.6 220.3,1269.5 212.0,1263.3 222.3,1263.3"/>
<text class="lg" transform="translate(296.0,1283.8) scale(1,1.065)" text-anchor="start">1-CS</text>
<circle cx="463.7" cy="1267" r="13.4"/>
<text class="lg" transform="translate(534.2,1283.8) scale(1,1.065)" text-anchor="start">2-CS/AC1.5</text>
<polygon class="tr" points="855.7,1250.5 869.9,1275.5 841.5,1275.5"/><path class="te" d="M841.5,1275.5L855.7,1250.5L869.9,1275.5"/>
<text class="lg" transform="translate(926.4,1283.8) scale(0.998,1.065)" text-anchor="start">2-CS/CM1.5</text>
<use href="#sqm" x="1252.8" y="1267.2"/>
<text class="lg" transform="translate(1324.6,1283.8) scale(1.004,1.065)" text-anchor="start">3-CS/CM1/AC0.5</text>
</g>
</svg>
</body></html>
